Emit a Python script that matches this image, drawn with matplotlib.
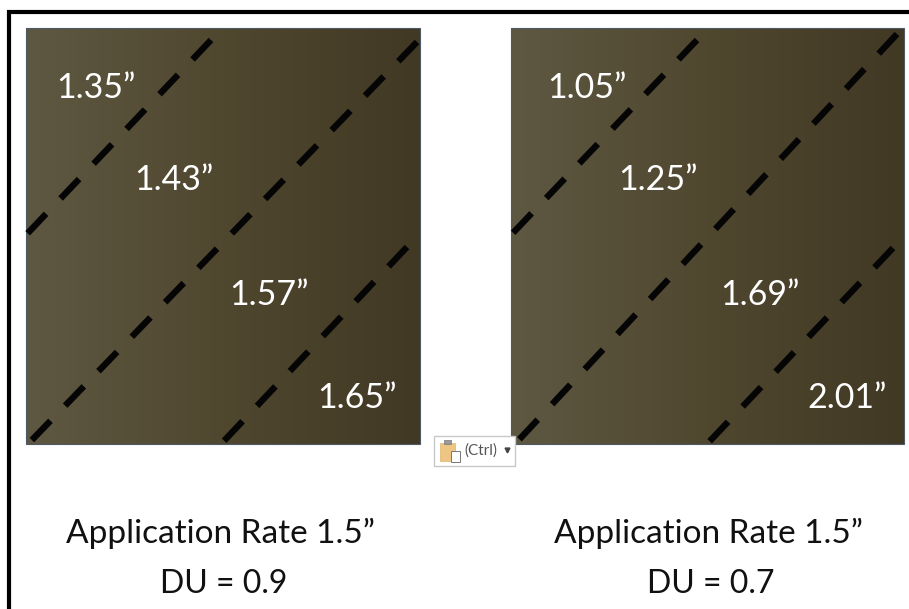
import numpy as np
import matplotlib
matplotlib.use("Agg")
import matplotlib.pyplot as plt
from matplotlib.colors import LinearSegmentedColormap
from matplotlib.patches import Rectangle

plt.rcParams['font.family'] = ['Lato', 'DejaVu Sans']

# Labels
depths_left = ["1.35”", "1.43”", "1.57”", "1.65”"]
depths_right = ["1.05”", "1.25”", "1.69”", "2.01”"]
captions_left = ["Application Rate 1.5”", "DU = 0.9"]
captions_right = ["Application Rate 1.5”", "DU = 0.7"]

# Positions are in image pixels
depth_x_left = [96, 174, 269, 357]
depth_x_right = [587, 658, 760, 847]
depth_y = [88, 180, 295, 398]

lines_left = [((26, 235), (211, 40)), ((29, 443), (417, 42)), ((222, 443), (407, 247))]
lines_right = [((511, 235), (697, 40)), ((516, 443), (897, 34)), ((708, 443), (893, 248))]

fig = plt.figure(figsize=(9.09, 6.09), dpi=100)
ax = fig.add_axes([0, 0, 1, 1])

# Background panels with horizontal gradient
cmap = LinearSegmentedColormap.from_list("soil", ["#5e5842", "#50472f", "#423925"])
grad = np.linspace(0, 1, 256).reshape(1, -1)
for x0, x1 in [(26, 420), (511, 904)]:
    ax.imshow(grad, cmap=cmap, extent=(x0, x1, 444, 28), aspect="auto", zorder=1)
    ax.add_patch(Rectangle((x0, 28), x1 - x0, 416, fill=False, ec="#4d5a66", lw=0.8, zorder=2))

# Dashed lines between the zones, drawn from the top end
for seg in lines_left + lines_right:
    (xa, ya), (xb, yb) = seg
    ax.plot([xb, xa], [yb, ya], color="#050505", lw=4.6, linestyle=(0, (4.2, 3.3)),
            dash_capstyle="butt", zorder=3)

for x, y, s in zip(depth_x_left, depth_y, depths_left):
    ax.text(x, y, s, color="white", fontsize=24.5, ha="center", va="center", zorder=4)
for x, y, s in zip(depth_x_right, depth_y, depths_right):
    ax.text(x, y, s, color="white", fontsize=24.5, ha="center", va="center", zorder=4)

for cx, cx_du, caps in [(220, 224, captions_left), (709, 711, captions_right)]:
    ax.text(cx, 533, caps[0], color="#111111", fontsize=24, ha="center", va="center")
    ax.text(cx_du, 584, caps[1], color="#111111", fontsize=23, ha="center", va="center")

# Outer frame (left and top edges only)
ax.plot([9, 9], [609, 10], color="black", lw=3, solid_capstyle="butt", zorder=5)
ax.plot([7, 909], [12, 12], color="black", lw=3, solid_capstyle="butt", zorder=5)

# Paste options button
ax.add_patch(Rectangle((434, 436), 81, 30, fc="white", ec="#c8c8c8", lw=1, zorder=6))
ax.add_patch(Rectangle((440, 443), 15, 18, fc="#eec583", ec="#e0b56f", lw=0.5, zorder=7))
ax.add_patch(Rectangle((444, 440), 7, 4, fc="#999999", ec="#777777", lw=0.5, zorder=8))
ax.add_patch(Rectangle((451, 451), 9, 11, fc="white", ec="#777777", lw=0.7, zorder=8))
ax.text(464, 451, "(Ctrl)", color="#555555", fontsize=11, va="center", zorder=7)
ax.plot([507], [450], marker="v", ms=3.5, color="#444444", zorder=7)

ax.set_xlim(0, 909)
ax.set_ylim(609, 0)
ax.axis("off")

fig.savefig("out.png", dpi=100, facecolor="white")
